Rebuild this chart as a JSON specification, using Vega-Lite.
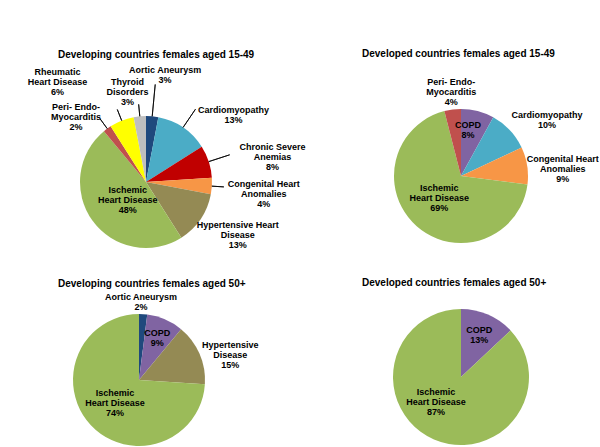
{
  "$schema": "https://vega.github.io/schema/vega-lite/v6.json",
  "padding": {"left": 0, "top": 49, "right": 0, "bottom": 0},
  "background": "white",
  "data": {"values": [
    {"panel": "p1", "cause": "Aortic Aneurysm", "pct": 3, "label": "Aortic Aneurysm\n3%"},
    {"panel": "p1", "cause": "Cardiomyopathy", "pct": 13, "label": "Cardiomyopathy\n13%"},
    {"panel": "p1", "cause": "Chronic Severe Anemias", "pct": 8, "label": "Chronic Severe\nAnemias\n8%"},
    {"panel": "p1", "cause": "Congenital Heart Anomalies", "pct": 4, "label": "Congenital Heart\nAnomalies\n4%"},
    {"panel": "p1", "cause": "Hypertensive Heart Disease", "pct": 13, "label": "Hypertensive Heart\nDisease\n13%"},
    {"panel": "p1", "cause": "Ischemic Heart Disease", "pct": 48, "label": "Ischemic\nHeart Disease\n48%"},
    {"panel": "p1", "cause": "Peri-Endo-Myocarditis", "pct": 2, "label": "Peri- Endo-\nMyocarditis\n2%"},
    {"panel": "p1", "cause": "Rheumatic Heart Disease", "pct": 6, "label": "Rheumatic\nHeart Disease\n6%"},
    {"panel": "p1", "cause": "Thyroid Disorders", "pct": 3, "label": "Thyroid\nDisorders\n3%"},
    {"panel": "p2", "cause": "COPD", "pct": 8, "label": "COPD\n8%"},
    {"panel": "p2", "cause": "Cardiomyopathy", "pct": 10, "label": "Cardiomyopathy\n10%"},
    {"panel": "p2", "cause": "Congenital Heart Anomalies", "pct": 9, "label": "Congenital Heart\nAnomalies\n9%"},
    {"panel": "p2", "cause": "Ischemic Heart Disease", "pct": 69, "label": "Ischemic\nHeart Disease\n69%"},
    {"panel": "p2", "cause": "Peri-Endo-Myocarditis", "pct": 4, "label": "Peri- Endo-\nMyocarditis\n4%"},
    {"panel": "p3", "cause": "Aortic Aneurysm", "pct": 2, "label": "Aortic Aneurysm\n2%"},
    {"panel": "p3", "cause": "COPD", "pct": 9, "label": "COPD\n9%"},
    {"panel": "p3", "cause": "Hypertensive Disease", "pct": 15, "label": "Hypertensive\nDisease\n15%"},
    {"panel": "p3", "cause": "Ischemic Heart Disease", "pct": 74, "label": "Ischemic\nHeart Disease\n74%"},
    {"panel": "p4", "cause": "COPD", "pct": 13, "label": "COPD\n13%"},
    {"panel": "p4", "cause": "Ischemic Heart Disease", "pct": 87, "label": "Ischemic\nHeart Disease\n87%"}
  ]},
  "config": {
    "view": {"stroke": null},
    "title": {"font": "Liberation Sans", "fontSize": 10, "fontWeight": "bold", "color": "#000000", "anchor": "start", "offset": 6, "baseline": "bottom"},
    "text": {"font": "Liberation Sans", "fontSize": 9, "fontWeight": "bold", "fill": "#000000", "lineBreak": "\n", "lineHeight": 10, "align": "center", "baseline": "middle"},
    "arc": {"stroke": null}
  },
  "bounds": "flush",
  "columns": 2,
  "spacing": {"row": 20, "column": 34},
  "resolve": {"scale": {"theta": "independent"}},
  "concat": [
    {
      "width": 292, "height": 236,
      "title": {"text": "Developing countries females aged 15-49", "dx": 58, "offset": -4},
      "transform": [{"filter": "datum.panel === 'p1'"}],
      "layer": [
        {"mark": {"type": "arc", "radius": 66},
         "encoding": {"theta": {"field": "pct", "type": "quantitative", "stack": true}, "order": {"field": "cause"},
           "color": {"field": "cause", "type": "nominal", "legend": null,
             "scale": {"domain": ["Aortic Aneurysm","COPD","Cardiomyopathy","Chronic Severe Anemias","Congenital Heart Anomalies","Hypertensive Disease","Hypertensive Heart Disease","Ischemic Heart Disease","Peri-Endo-Myocarditis","Rheumatic Heart Disease","Thyroid Disorders"],
                       "range": ["#1F497D","#8064A2","#4BACC6","#C00000","#F79646","#948A54","#948A54","#9BBB59","#C0504D","#FFFF00","#BFBFBF"]}}}},
        {"mark": {"type": "arc", "radius": 98, "radius2": 66, "padAngle": 3, "stroke": "#000000", "strokeWidth": 0.8, "fill": "transparent"},
         "encoding": {"theta": {"field": "pct", "type": "quantitative", "stack": true}, "order": {"field": "cause"},
           "strokeOpacity": {"condition": {"test": "datum.cause === 'Aortic Aneurysm'", "value": 1}, "value": 0}}},
        {"mark": {"type": "arc", "radius": 88, "radius2": 66, "padAngle": 3, "stroke": "#000000", "strokeWidth": 0.8, "fill": "transparent"},
         "encoding": {"theta": {"field": "pct", "type": "quantitative", "stack": true}, "order": {"field": "cause"},
           "strokeOpacity": {"condition": {"test": "datum.cause === 'Cardiomyopathy' || datum.cause === 'Chronic Severe Anemias'", "value": 1}, "value": 0}}},
        {"mark": {"type": "arc", "radius": 78, "radius2": 66, "padAngle": 3, "stroke": "#000000", "strokeWidth": 0.8, "fill": "transparent"},
         "encoding": {"theta": {"field": "pct", "type": "quantitative", "stack": true}, "order": {"field": "cause"},
           "strokeOpacity": {"condition": {"test": "datum.cause === 'Thyroid Disorders' || datum.cause === 'Peri-Endo-Myocarditis' || datum.cause === 'Congenital Heart Anomalies' || datum.cause === 'Rheumatic Heart Disease'", "value": 1}, "value": 0}}},
        {"mark": {"type": "text", "radius": 107, "dx": 9, "dy": -5},
         "encoding": {"theta": {"field": "pct", "type": "quantitative", "stack": true}, "order": {"field": "cause"},
           "text": {"condition": {"test": "datum.cause === 'Aortic Aneurysm'", "field": "label"}, "value": ""}}},
        {"mark": {"type": "text", "radius": 90, "dx": -10, "dy": -10},
         "encoding": {"theta": {"field": "pct", "type": "quantitative", "stack": true}, "order": {"field": "cause"},
           "text": {"condition": {"test": "datum.cause === 'Thyroid Disorders'", "field": "label"}, "value": ""}}},
        {"mark": {"type": "text", "radius": 110, "dx": -48, "dy": -8},
         "encoding": {"theta": {"field": "pct", "type": "quantitative", "stack": true}, "order": {"field": "cause"},
           "text": {"condition": {"test": "datum.cause === 'Rheumatic Heart Disease'", "field": "label"}, "value": ""}}},
        {"mark": {"type": "text", "radius": 85, "dx": -20, "dy": -6},
         "encoding": {"theta": {"field": "pct", "type": "quantitative", "stack": true}, "order": {"field": "cause"},
           "text": {"condition": {"test": "datum.cause === 'Peri-Endo-Myocarditis'", "field": "label"}, "value": ""}}},
        {"mark": {"type": "text", "radius": 95, "dx": 34, "dy": 7},
         "encoding": {"theta": {"field": "pct", "type": "quantitative", "stack": true}, "order": {"field": "cause"},
           "text": {"condition": {"test": "datum.cause === 'Cardiomyopathy'", "field": "label"}, "value": ""}}},
        {"mark": {"type": "text", "radius": 110, "dx": 22, "dy": -1},
         "encoding": {"theta": {"field": "pct", "type": "quantitative", "stack": true}, "order": {"field": "cause"},
           "text": {"condition": {"test": "datum.cause === 'Chronic Severe Anemias'", "field": "label"}, "value": ""}}},
        {"mark": {"type": "text", "radius": 118, "dy": -5},
         "encoding": {"theta": {"field": "pct", "type": "quantitative", "stack": true}, "order": {"field": "cause"},
           "text": {"condition": {"test": "datum.cause === 'Congenital Heart Anomalies'", "field": "label"}, "value": ""}}},
        {"mark": {"type": "text", "radius": 105, "dx": 5, "dy": -16},
         "encoding": {"theta": {"field": "pct", "type": "quantitative", "stack": true}, "order": {"field": "cause"},
           "text": {"condition": {"test": "datum.cause === 'Hypertensive Heart Disease'", "field": "label"}, "value": ""}}},
        {"mark": {"type": "text", "radius": 30, "dx": 6, "dy": -10},
         "encoding": {"theta": {"field": "pct", "type": "quantitative", "stack": true}, "order": {"field": "cause"},
           "text": {"condition": {"test": "datum.cause === 'Ischemic Heart Disease'", "field": "label"}, "value": ""}}}
      ]
    },
    {
      "width": 270, "height": 224,
      "title": {"text": "Developed countries females aged 15-49", "dx": 36, "offset": 5},
      "transform": [{"filter": "datum.panel === 'p2'"}],
      "layer": [
        {"mark": {"type": "arc", "radius": 67},
         "encoding": {"theta": {"field": "pct", "type": "quantitative", "stack": true}, "order": {"field": "cause"},
           "color": {"field": "cause", "type": "nominal", "legend": null,
             "scale": {"domain": ["Aortic Aneurysm","COPD","Cardiomyopathy","Chronic Severe Anemias","Congenital Heart Anomalies","Hypertensive Disease","Hypertensive Heart Disease","Ischemic Heart Disease","Peri-Endo-Myocarditis","Rheumatic Heart Disease","Thyroid Disorders"],
                       "range": ["#1F497D","#8064A2","#4BACC6","#C00000","#F79646","#948A54","#948A54","#9BBB59","#C0504D","#FFFF00","#BFBFBF"]}}}},
        {"mark": {"type": "text", "radius": 85, "dx": 1, "dy": -10},
         "encoding": {"theta": {"field": "pct", "type": "quantitative", "stack": true}, "order": {"field": "cause"},
           "text": {"condition": {"test": "datum.cause === 'Peri-Endo-Myocarditis'", "field": "label"}, "value": ""}}},
        {"mark": {"type": "text", "radius": 48, "dx": -5, "dy": -5},
         "encoding": {"theta": {"field": "pct", "type": "quantitative", "stack": true}, "order": {"field": "cause"},
           "text": {"condition": {"test": "datum.cause === 'COPD'", "field": "label"}, "value": ""}}},
        {"mark": {"type": "text", "radius": 100, "dx": 13, "dy": 7},
         "encoding": {"theta": {"field": "pct", "type": "quantitative", "stack": true}, "order": {"field": "cause"},
           "text": {"condition": {"test": "datum.cause === 'Cardiomyopathy'", "field": "label"}, "value": ""}}},
        {"mark": {"type": "text", "radius": 103, "dy": -1},
         "encoding": {"theta": {"field": "pct", "type": "quantitative", "stack": true}, "order": {"field": "cause"},
           "text": {"condition": {"test": "datum.cause === 'Congenital Heart Anomalies'", "field": "label"}, "value": ""}}},
        {"mark": {"type": "text", "radius": 33, "dy": -13},
         "encoding": {"theta": {"field": "pct", "type": "quantitative", "stack": true}, "order": {"field": "cause"},
           "text": {"condition": {"test": "datum.cause === 'Ischemic Heart Disease'", "field": "label"}, "value": ""}}}
      ]
    },
    {
      "width": 278, "height": 120,
      "title": {"text": "Developing countries females aged 50+", "dx": 58, "offset": -5},
      "transform": [{"filter": "datum.panel === 'p3'"}],
      "layer": [
        {"mark": {"type": "arc", "radius": 66},
         "encoding": {"theta": {"field": "pct", "type": "quantitative", "stack": true}, "order": {"field": "cause"},
           "color": {"field": "cause", "type": "nominal", "legend": null,
             "scale": {"domain": ["Aortic Aneurysm","COPD","Cardiomyopathy","Chronic Severe Anemias","Congenital Heart Anomalies","Hypertensive Disease","Hypertensive Heart Disease","Ischemic Heart Disease","Peri-Endo-Myocarditis","Rheumatic Heart Disease","Thyroid Disorders"],
                       "range": ["#1F497D","#8064A2","#4BACC6","#C00000","#F79646","#948A54","#948A54","#9BBB59","#C0504D","#FFFF00","#BFBFBF"]}}}},
        {"mark": {"type": "text", "radius": 80, "dx": -3, "dy": -3},
         "encoding": {"theta": {"field": "pct", "type": "quantitative", "stack": true}, "order": {"field": "cause"},
           "text": {"condition": {"test": "datum.cause === 'Aortic Aneurysm'", "field": "label"}, "value": ""}}},
        {"mark": {"type": "text", "radius": 46, "dy": -5},
         "encoding": {"theta": {"field": "pct", "type": "quantitative", "stack": true}, "order": {"field": "cause"},
           "text": {"condition": {"test": "datum.cause === 'COPD'", "field": "label"}, "value": ""}}},
        {"mark": {"type": "text", "radius": 95, "dx": 4, "dy": 3},
         "encoding": {"theta": {"field": "pct", "type": "quantitative", "stack": true}, "order": {"field": "cause"},
           "text": {"condition": {"test": "datum.cause === 'Hypertensive Disease'", "field": "label"}, "value": ""}}},
        {"mark": {"type": "text", "radius": 33, "dy": -10},
         "encoding": {"theta": {"field": "pct", "type": "quantitative", "stack": true}, "order": {"field": "cause"},
           "text": {"condition": {"test": "datum.cause === 'Ischemic Heart Disease'", "field": "label"}, "value": ""}}}
      ]
    },
    {
      "width": 270, "height": 114,
      "title": {"text": "Developed countries females aged 50+", "dx": 36, "offset": 21},
      "transform": [{"filter": "datum.panel === 'p4'"}],
      "layer": [
        {"mark": {"type": "arc", "radius": 68},
         "encoding": {"theta": {"field": "pct", "type": "quantitative", "stack": true}, "order": {"field": "cause"},
           "color": {"field": "cause", "type": "nominal", "legend": null,
             "scale": {"domain": ["Aortic Aneurysm","COPD","Cardiomyopathy","Chronic Severe Anemias","Congenital Heart Anomalies","Hypertensive Disease","Hypertensive Heart Disease","Ischemic Heart Disease","Peri-Endo-Myocarditis","Rheumatic Heart Disease","Thyroid Disorders"],
                       "range": ["#1F497D","#8064A2","#4BACC6","#C00000","#F79646","#948A54","#948A54","#9BBB59","#C0504D","#FFFF00","#BFBFBF"]}}}},
        {"mark": {"type": "text", "radius": 46, "dy": -5},
         "encoding": {"theta": {"field": "pct", "type": "quantitative", "stack": true}, "order": {"field": "cause"},
           "text": {"condition": {"test": "datum.cause === 'COPD'", "field": "label"}, "value": ""}}},
        {"mark": {"type": "text", "radius": 30, "dx": -13, "dy": -13},
         "encoding": {"theta": {"field": "pct", "type": "quantitative", "stack": true}, "order": {"field": "cause"},
           "text": {"condition": {"test": "datum.cause === 'Ischemic Heart Disease'", "field": "label"}, "value": ""}}}
      ]
    }
  ]
}
